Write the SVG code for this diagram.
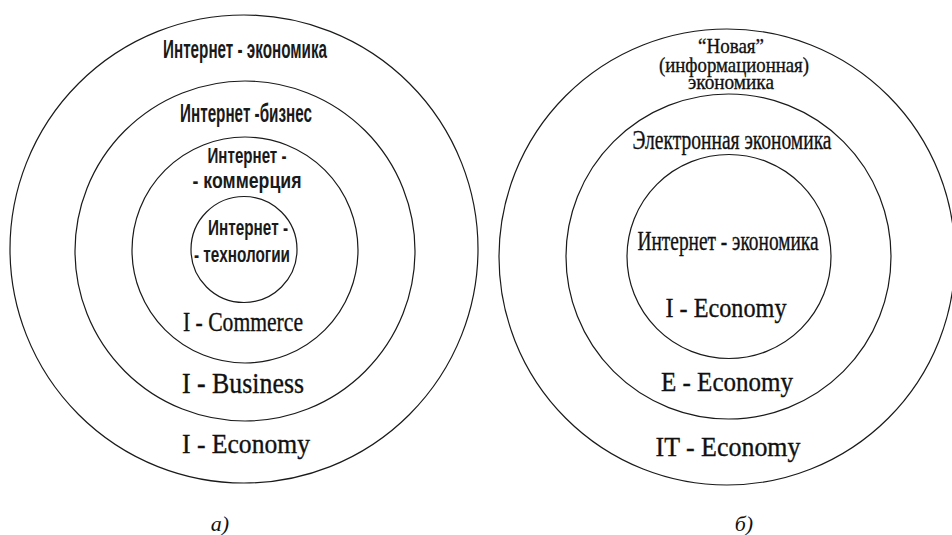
<svg xmlns="http://www.w3.org/2000/svg" width="952" height="535" viewBox="0 0 952 535">
<style>
.ring{fill:none;stroke:#1a1a1a;stroke-width:1.2}
.sans{font-family:"Liberation Sans",Arial,sans-serif;font-weight:bold;fill:#1a1a1a;text-anchor:middle}
.serif{font-family:"Liberation Serif","Times New Roman",serif;fill:#111;stroke:#111;stroke-width:0.35;text-anchor:middle}
.cap{font-family:"Liberation Serif","Times New Roman",serif;font-style:italic;fill:#111;text-anchor:middle;font-size:22px}
</style>
<rect width="952" height="535" fill="#fff"/>
<g id="diagram-a">
  <g id="a-ring1"><circle class="ring" cx="244" cy="249" r="234"/>
    <text class="sans" x="245" y="58" font-size="25" textLength="164" lengthAdjust="spacingAndGlyphs">Интернет - экономика</text>
    <text class="serif" x="246" y="453" font-size="28" textLength="128" lengthAdjust="spacingAndGlyphs">I - Economy</text>
  </g>
  <g id="a-ring2"><circle class="ring" cx="245" cy="251" r="170"/>
    <text class="sans" x="246" y="122" font-size="25" textLength="132" lengthAdjust="spacingAndGlyphs">Интернет -бизнес</text>
    <text class="serif" x="243" y="393" font-size="29" textLength="122" lengthAdjust="spacingAndGlyphs">I - Business</text>
  </g>
  <g id="a-ring3"><circle class="ring" cx="245" cy="250" r="113"/>
    <text class="sans" x="247" y="163" font-size="22" textLength="79" lengthAdjust="spacingAndGlyphs">Интернет -</text>
    <text class="sans" x="247" y="188" font-size="22" textLength="109" lengthAdjust="spacingAndGlyphs">- коммерция</text>
    <text class="serif" x="243" y="331" font-size="27" textLength="120" lengthAdjust="spacingAndGlyphs">I - Commerce</text>
  </g>
  <g id="a-ring4"><circle class="ring" cx="244" cy="249.5" r="53"/>
    <text class="sans" x="248" y="235" font-size="22" textLength="80" lengthAdjust="spacingAndGlyphs">Интернет -</text>
    <text class="sans" x="242" y="262" font-size="22" textLength="96" lengthAdjust="spacingAndGlyphs">- технологии</text>
  </g>
  <text id="a-caption" class="cap" x="220" y="531">а)</text>
</g>
<g id="diagram-b">
  <g id="b-ring1"><circle class="ring" cx="727" cy="257" r="228"/>
    <text class="serif" x="731" y="53" font-size="22" textLength="66" lengthAdjust="spacingAndGlyphs">“Новая”</text>
    <text class="serif" x="734" y="72" font-size="22" textLength="150" lengthAdjust="spacingAndGlyphs">(информационная)</text>
    <text class="serif" x="731" y="89" font-size="22" textLength="86" lengthAdjust="spacingAndGlyphs">экономика</text>
    <text class="serif" x="728" y="456" font-size="28" textLength="145" lengthAdjust="spacingAndGlyphs">IT - Economy</text>
  </g>
  <g id="b-ring2"><circle class="ring" cx="728.5" cy="256.5" r="162.5"/>
    <text class="serif" x="732" y="149" font-size="27" textLength="199" lengthAdjust="spacingAndGlyphs">Электронная экономика</text>
    <text class="serif" x="727" y="391" font-size="28" textLength="132" lengthAdjust="spacingAndGlyphs">E - Economy</text>
  </g>
  <g id="b-ring3"><circle class="ring" cx="729" cy="256.5" r="102"/>
    <text class="serif" x="728" y="250" font-size="27" textLength="181" lengthAdjust="spacingAndGlyphs">Интернет - экономика</text>
    <text class="serif" x="726" y="317" font-size="28" textLength="121" lengthAdjust="spacingAndGlyphs">I - Economy</text>
  </g>
  <text id="b-caption" class="cap" x="744" y="531">б)</text>
</g>
<g id="connectors"/>
</svg>
